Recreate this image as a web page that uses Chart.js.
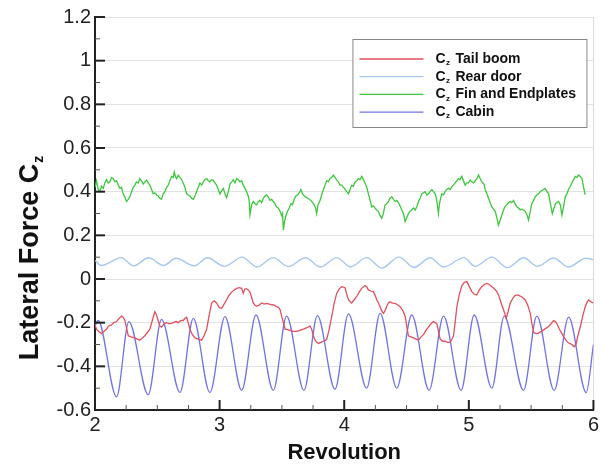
<!DOCTYPE html>
<html><head><meta charset="utf-8">
<script src="https://cdn.jsdelivr.net/npm/chart.js@4.4.0/dist/chart.umd.min.js"></script>
<style>html,body{margin:0;padding:0;background:#fff;}#wrap{width:602px;height:466px;position:relative;}</style>
</head><body><div id="wrap"><canvas id="c" width="602" height="466"></canvas></div>
<script>
// ---- tick labels ----
const xMajorTicks = [2, 3, 4, 5, 6];
const xMinorTicks = [2.25, 2.5, 2.75, 3.25, 3.5, 3.75, 4.25, 4.5, 4.75, 5.25, 5.5, 5.75];
const yMajorTicks = [-0.6, -0.4, -0.2, 0, 0.2, 0.4, 0.6, 0.8, 1, 1.2];
const yMinorTicks = [-0.5, -0.3, -0.1, 0.1, 0.3, 0.5, 0.7, 0.9, 1.1];
const xTitle = 'Revolution';
const yTitle = 'Lateral Force C';
const seriesLabels = ['Tail boom', 'Rear door', 'Fin and Endplates', 'Cabin'];

// ---- Cz Tail boom ----
const tailRev = [2.000,2.012,2.030,2.052,2.070,2.092,2.110,2.133,2.150,2.173,2.195,2.213,2.226,2.240,2.255,2.267,2.290,2.320,2.340,2.360,2.380,2.400,2.420,2.440,2.460,2.480,2.490,2.507,2.520,2.534,2.555,2.574,2.600,2.628,2.650,2.668,2.690,2.708,2.722,2.735,2.748,2.762,2.782,2.802,2.830,2.856,2.875,2.896,2.915,2.936,2.956,2.976,2.996,3.016,3.036,3.056,3.076,3.096,3.117,3.137,3.157,3.177,3.190,3.203,3.217,3.230,3.244,3.257,3.270,3.284,3.297,3.317,3.337,3.357,3.378,3.398,3.418,3.438,3.458,3.472,3.485,3.498,3.512,3.525,3.545,3.565,3.590,3.619,3.645,3.672,3.692,3.712,3.725,3.739,3.752,3.766,3.780,3.793,3.813,3.833,3.850,3.860,3.880,3.900,3.920,3.940,3.960,3.980,4.007,4.020,4.034,4.050,4.060,4.080,4.100,4.120,4.140,4.155,4.167,4.180,4.194,4.214,4.234,4.248,4.261,4.275,4.288,4.300,4.315,4.328,4.341,4.355,4.368,4.388,4.408,4.428,4.449,4.470,4.489,4.500,4.515,4.535,4.556,4.576,4.596,4.616,4.636,4.656,4.676,4.696,4.716,4.730,4.743,4.757,4.770,4.790,4.810,4.830,4.850,4.865,4.877,4.890,4.904,4.924,4.944,4.964,4.984,5.004,5.024,5.044,5.064,5.084,5.104,5.125,5.145,5.165,5.185,5.205,5.225,5.240,5.252,5.265,5.279,5.290,5.300,5.315,5.332,5.352,5.372,5.392,5.412,5.432,5.453,5.473,5.493,5.505,5.520,5.540,5.560,5.580,5.600,5.620,5.640,5.660,5.680,5.695,5.707,5.727,5.747,5.767,5.787,5.807,5.827,5.845,5.860,5.875,5.894,5.914,5.934,5.950,5.961,5.980,6.000];
const tailCz = [-0.21,-0.23,-0.24,-0.25,-0.24,-0.23,-0.215,-0.21,-0.20,-0.195,-0.18,-0.17,-0.175,-0.19,-0.23,-0.26,-0.265,-0.27,-0.275,-0.28,-0.27,-0.26,-0.245,-0.23,-0.19,-0.15,-0.16,-0.19,-0.215,-0.22,-0.205,-0.20,-0.205,-0.20,-0.195,-0.20,-0.19,-0.19,-0.18,-0.175,-0.20,-0.23,-0.255,-0.27,-0.275,-0.28,-0.26,-0.23,-0.17,-0.11,-0.10,-0.11,-0.13,-0.135,-0.115,-0.095,-0.075,-0.06,-0.05,-0.043,-0.04,-0.043,-0.065,-0.045,-0.045,-0.05,-0.06,-0.085,-0.11,-0.12,-0.125,-0.12,-0.11,-0.115,-0.112,-0.115,-0.118,-0.12,-0.127,-0.13,-0.14,-0.17,-0.20,-0.23,-0.232,-0.235,-0.24,-0.24,-0.235,-0.23,-0.225,-0.22,-0.215,-0.23,-0.26,-0.28,-0.29,-0.295,-0.29,-0.285,-0.28,-0.275,-0.23,-0.17,-0.11,-0.065,-0.045,-0.035,-0.04,-0.07,-0.095,-0.105,-0.11,-0.095,-0.08,-0.06,-0.043,-0.035,-0.03,-0.035,-0.05,-0.055,-0.058,-0.075,-0.095,-0.11,-0.127,-0.145,-0.157,-0.145,-0.125,-0.11,-0.104,-0.11,-0.112,-0.118,-0.127,-0.145,-0.17,-0.21,-0.26,-0.265,-0.27,-0.275,-0.28,-0.265,-0.255,-0.235,-0.22,-0.205,-0.195,-0.20,-0.205,-0.24,-0.275,-0.285,-0.285,-0.29,-0.29,-0.275,-0.26,-0.20,-0.127,-0.07,-0.03,-0.015,-0.012,-0.035,-0.058,-0.07,-0.073,-0.05,-0.035,-0.025,-0.02,-0.025,-0.035,-0.045,-0.058,-0.075,-0.096,-0.12,-0.142,-0.16,-0.18,-0.15,-0.11,-0.09,-0.075,-0.073,-0.078,-0.085,-0.096,-0.12,-0.157,-0.20,-0.245,-0.25,-0.248,-0.24,-0.233,-0.225,-0.218,-0.205,-0.19,-0.195,-0.205,-0.23,-0.25,-0.27,-0.287,-0.295,-0.30,-0.31,-0.30,-0.26,-0.22,-0.17,-0.127,-0.105,-0.096,-0.105,-0.11];

// ---- Cz Rear door ----
const doorRev = [2.000,2.050,2.210,2.310,2.430,2.550,2.650,2.800,2.900,3.040,3.180,3.300,3.430,3.550,3.690,3.810,3.940,4.050,4.180,4.300,4.440,4.560,4.690,4.800,4.960,5.050,5.185,5.310,5.440,5.550,5.680,5.800,5.940,6.000];
const doorCz = [0.085,0.062,0.098,0.060,0.097,0.062,0.095,0.060,0.097,0.058,0.100,0.055,0.098,0.057,0.097,0.055,0.098,0.056,0.098,0.050,0.100,0.053,0.097,0.055,0.098,0.058,0.100,0.052,0.097,0.058,0.096,0.055,0.095,0.088];

// ---- Cz Fin and Endplates ----
const finRev = [2.000,2.012,2.025,2.039,2.052,2.066,2.079,2.092,2.106,2.119,2.133,2.146,2.160,2.173,2.187,2.200,2.213,2.226,2.240,2.253,2.267,2.280,2.293,2.307,2.320,2.333,2.347,2.360,2.373,2.387,2.400,2.414,2.427,2.440,2.454,2.467,2.480,2.494,2.507,2.520,2.534,2.547,2.561,2.574,2.588,2.601,2.615,2.628,2.636,2.645,2.655,2.668,2.681,2.695,2.708,2.721,2.735,2.748,2.762,2.775,2.789,2.802,2.815,2.829,2.842,2.856,2.869,2.882,2.896,2.909,2.922,2.936,2.949,2.962,2.976,2.989,3.003,3.017,3.030,3.043,3.056,3.070,3.083,3.097,3.110,3.123,3.137,3.150,3.163,3.177,3.190,3.204,3.217,3.230,3.237,3.244,3.257,3.270,3.284,3.297,3.311,3.324,3.337,3.351,3.364,3.378,3.391,3.404,3.418,3.431,3.444,3.458,3.471,3.485,3.498,3.505,3.512,3.520,3.532,3.545,3.559,3.572,3.585,3.599,3.612,3.626,3.639,3.652,3.666,3.679,3.692,3.706,3.719,3.732,3.746,3.759,3.772,3.779,3.790,3.806,3.819,3.833,3.846,3.860,3.873,3.886,3.900,3.913,3.926,3.940,3.953,3.967,3.980,3.994,4.007,4.020,4.034,4.047,4.060,4.074,4.087,4.100,4.114,4.127,4.141,4.154,4.167,4.181,4.194,4.208,4.221,4.234,4.248,4.261,4.274,4.288,4.301,4.314,4.328,4.341,4.355,4.368,4.382,4.395,4.408,4.422,4.435,4.448,4.462,4.475,4.489,4.502,4.515,4.529,4.542,4.556,4.569,4.582,4.596,4.609,4.623,4.636,4.649,4.663,4.676,4.689,4.703,4.716,4.730,4.743,4.756,4.763,4.770,4.783,4.797,4.810,4.823,4.837,4.850,4.864,4.877,4.890,4.904,4.917,4.930,4.944,4.957,4.970,4.984,4.997,5.011,5.024,5.038,5.051,5.064,5.078,5.091,5.104,5.113,5.122,5.131,5.145,5.158,5.171,5.185,5.198,5.212,5.225,5.238,5.252,5.265,5.275,5.284,5.294,5.305,5.318,5.332,5.345,5.359,5.372,5.386,5.399,5.412,5.426,5.439,5.452,5.466,5.479,5.493,5.506,5.520,5.533,5.546,5.560,5.573,5.586,5.600,5.613,5.627,5.640,5.653,5.670,5.686,5.697,5.707,5.720,5.734,5.747,5.760,5.774,5.787,5.800,5.814,5.827,5.841,5.854,5.868,5.881,5.894,5.908,5.921,5.934,5.948,5.961,5.975,5.988,6.000];
const finCz = [0.42,0.45,0.41,0.40,0.425,0.415,0.44,0.455,0.44,0.445,0.465,0.46,0.445,0.45,0.43,0.415,0.42,0.39,0.375,0.355,0.365,0.377,0.40,0.42,0.43,0.445,0.44,0.46,0.45,0.435,0.445,0.453,0.44,0.43,0.41,0.39,0.395,0.385,0.38,0.37,0.365,0.39,0.40,0.42,0.43,0.45,0.47,0.465,0.49,0.47,0.46,0.475,0.465,0.455,0.44,0.42,0.39,0.385,0.38,0.37,0.365,0.38,0.40,0.42,0.44,0.43,0.445,0.455,0.46,0.45,0.445,0.455,0.453,0.44,0.43,0.41,0.39,0.405,0.415,0.39,0.372,0.40,0.435,0.445,0.455,0.44,0.46,0.455,0.445,0.45,0.43,0.415,0.40,0.38,0.36,0.295,0.34,0.355,0.345,0.34,0.355,0.36,0.35,0.37,0.38,0.385,0.375,0.36,0.365,0.355,0.345,0.33,0.325,0.31,0.29,0.30,0.225,0.26,0.29,0.31,0.325,0.345,0.34,0.365,0.38,0.385,0.395,0.41,0.39,0.38,0.375,0.37,0.365,0.36,0.35,0.34,0.32,0.30,0.34,0.36,0.385,0.41,0.43,0.45,0.445,0.46,0.465,0.476,0.465,0.453,0.445,0.43,0.43,0.42,0.41,0.40,0.39,0.41,0.43,0.425,0.445,0.45,0.46,0.455,0.47,0.455,0.44,0.42,0.39,0.36,0.33,0.335,0.325,0.315,0.31,0.29,0.278,0.30,0.34,0.345,0.355,0.37,0.377,0.365,0.355,0.36,0.35,0.335,0.316,0.30,0.263,0.28,0.30,0.31,0.316,0.325,0.316,0.33,0.355,0.37,0.39,0.395,0.40,0.385,0.39,0.40,0.41,0.40,0.39,0.36,0.30,0.34,0.36,0.39,0.385,0.40,0.41,0.415,0.41,0.423,0.43,0.44,0.45,0.46,0.455,0.47,0.45,0.43,0.44,0.44,0.453,0.445,0.44,0.45,0.46,0.476,0.46,0.445,0.44,0.435,0.41,0.39,0.37,0.35,0.33,0.32,0.31,0.28,0.247,0.27,0.293,0.31,0.324,0.335,0.34,0.35,0.355,0.35,0.36,0.345,0.33,0.325,0.316,0.32,0.316,0.31,0.295,0.27,0.31,0.347,0.36,0.377,0.385,0.39,0.40,0.405,0.41,0.415,0.40,0.39,0.35,0.30,0.33,0.347,0.35,0.355,0.34,0.293,0.33,0.377,0.39,0.41,0.425,0.44,0.455,0.47,0.465,0.476,0.47,0.46,0.42,0.385];

// ---- Cz Cabin ----
const cabinRev = [2.000,2.025,2.173,2.272,2.427,2.534,2.682,2.789,2.922,3.043,3.177,3.292,3.431,3.538,3.677,3.785,3.926,4.034,4.180,4.288,4.422,4.542,4.681,4.797,4.938,5.043,5.185,5.284,5.439,5.546,5.685,5.801,5.942,6.000];
const cabinCz = [-0.215,-0.19,-0.54,-0.195,-0.53,-0.185,-0.52,-0.18,-0.52,-0.172,-0.51,-0.165,-0.51,-0.17,-0.51,-0.168,-0.505,-0.16,-0.50,-0.157,-0.50,-0.165,-0.51,-0.17,-0.51,-0.165,-0.50,-0.17,-0.51,-0.17,-0.51,-0.175,-0.52,-0.30];

const pts = (xs, ys) => xs.map((x, i) => ({ x: x, y: ys[i] }));
const FONT = '"Liberation Sans", Arial, Helvetica, sans-serif';

const decorPlugin = {
  id: 'decor',
  afterDraw(chart) {
    const { ctx, chartArea: a, scales: { x, y } } = chart;
    ctx.save();
    // inward ticks
    ctx.strokeStyle = '#222';
    const seg = (x1, y1, x2, y2) => { ctx.beginPath(); ctx.moveTo(x1, y1); ctx.lineTo(x2, y2); ctx.stroke(); };
    ctx.lineWidth = 2;
    xMajorTicks.forEach(v => { const p = x.getPixelForValue(v); seg(p, a.bottom, p, a.bottom - 10); });
    yMajorTicks.forEach(v => { const p = y.getPixelForValue(v); seg(a.left, p, a.left + 10, p); });
    ctx.lineWidth = 1;
    ctx.strokeStyle = '#555';
    xMinorTicks.forEach(v => { const p = x.getPixelForValue(v); seg(p, a.bottom, p, a.bottom - 5); });
    yMinorTicks.forEach(v => { const p = y.getPixelForValue(v); seg(a.left, p, a.left + 5, p); });

    // x title
    ctx.fillStyle = '#111';
    ctx.font = 'bold 22px ' + FONT;
    ctx.textAlign = 'center';
    ctx.textBaseline = 'middle';
    ctx.fillText(xTitle, (a.left + a.right) / 2, 453);

    // y title with subscript
    ctx.save();
    ctx.translate(28, 258);
    ctx.rotate(-Math.PI / 2);
    ctx.font = 'bold 27px ' + FONT;
    const w1 = ctx.measureText(yTitle).width;
    ctx.font = 'bold 14px ' + FONT;
    const w2 = ctx.measureText('z').width;
    const tot = w1 + w2 + 1;
    ctx.textAlign = 'left';
    ctx.textBaseline = 'alphabetic';
    ctx.font = 'bold 27px ' + FONT;
    ctx.fillText(yTitle, -tot / 2, 10);
    ctx.font = 'bold 14px ' + FONT;
    ctx.fillText('z', -tot / 2 + w1 + 1, 15);
    ctx.restore();

    // legend
    const bx = a.right - 241, by = a.top + 22, bw = 234, bh = 88;
    ctx.fillStyle = '#fff';
    ctx.fillRect(bx, by, bw, bh);
    ctx.strokeStyle = '#888';
    ctx.lineWidth = 1;
    ctx.strokeRect(bx + 0.5, by + 0.5, bw, bh);
    chart.data.datasets.forEach((ds, i) => {
      const ry = by + 20 + i * 17.7;
      ctx.strokeStyle = ds.borderColor;
      ctx.lineWidth = 1.3;
      seg(bx + 7, ry, bx + 71, ry);
      ctx.fillStyle = '#111';
      ctx.textAlign = 'left';
      ctx.textBaseline = 'middle';
      ctx.font = 'bold 14px ' + FONT;
      ctx.fillText('C', bx + 83, ry);
      ctx.font = 'bold 8px ' + FONT;
      ctx.fillText('z', bx + 93.5, ry + 4);
      ctx.font = 'bold 14px ' + FONT;
      ctx.fillText(seriesLabels[i], bx + 103, ry);
    });
    ctx.restore();
  }
};

new Chart(document.getElementById('c'), {
  type: 'scatter',
  data: {
    datasets: [
      { label: 'Cz ' + seriesLabels[0], data: pts(tailRev, tailCz), borderColor: '#e0505e', showLine: true, pointRadius: 0, borderWidth: 1.3, tension: 0 },
      { label: 'Cz ' + seriesLabels[1], data: pts(doorRev, doorCz), borderColor: '#a6c8f0', showLine: true, pointRadius: 0, borderWidth: 1.4, cubicInterpolationMode: 'monotone' },
      { label: 'Cz ' + seriesLabels[2], data: pts(finRev, finCz), borderColor: '#3ec63e', showLine: true, pointRadius: 0, borderWidth: 1.3, tension: 0 },
      { label: 'Cz ' + seriesLabels[3], data: pts(cabinRev, cabinCz), borderColor: '#7272e4', showLine: true, pointRadius: 0, borderWidth: 1.3, cubicInterpolationMode: 'monotone' }
    ]
  },
  options: {
    responsive: false,
    animation: false,
    devicePixelRatio: 1,
    layout: { padding: { left: 0, right: 8.5, top: 17, bottom: 0 } },
    plugins: { legend: { display: false }, tooltip: { enabled: false } },
    scales: {
      x: {
        type: 'linear', min: 2, max: 6,
        afterBuildTicks: s => { s.ticks = xMajorTicks.map(v => ({ value: v })); },
        afterFit: s => { s.height = 56; },
        grid: { drawTicks: false, color: c => (c.tick && c.tick.value === 6) ? '#dcdcdc' : 'rgba(0,0,0,0)', lineWidth: 1 },
        border: { display: true, color: '#222', width: 2 },
        ticks: { padding: 3, color: '#222', font: { family: FONT, size: 20 }, callback: v => String(v), maxRotation: 0 }
      },
      y: {
        type: 'linear', min: -0.6, max: 1.2,
        afterBuildTicks: s => { s.ticks = yMajorTicks.map(v => ({ value: v })); },
        afterFit: s => { s.width = 95; },
        grid: { drawTicks: false, color: c => (c.tick && Math.abs(c.tick.value + 0.6) < 1e-9) ? 'rgba(0,0,0,0)' : '#e2e2e2', lineWidth: 1 },
        border: { display: true, color: '#222', width: 2 },
        ticks: { padding: 4, color: '#222', font: { family: FONT, size: 20 }, callback: v => String(Math.round(v * 10) / 10) }
      }
    }
  },
  plugins: [decorPlugin]
});
</script>
</body></html>
